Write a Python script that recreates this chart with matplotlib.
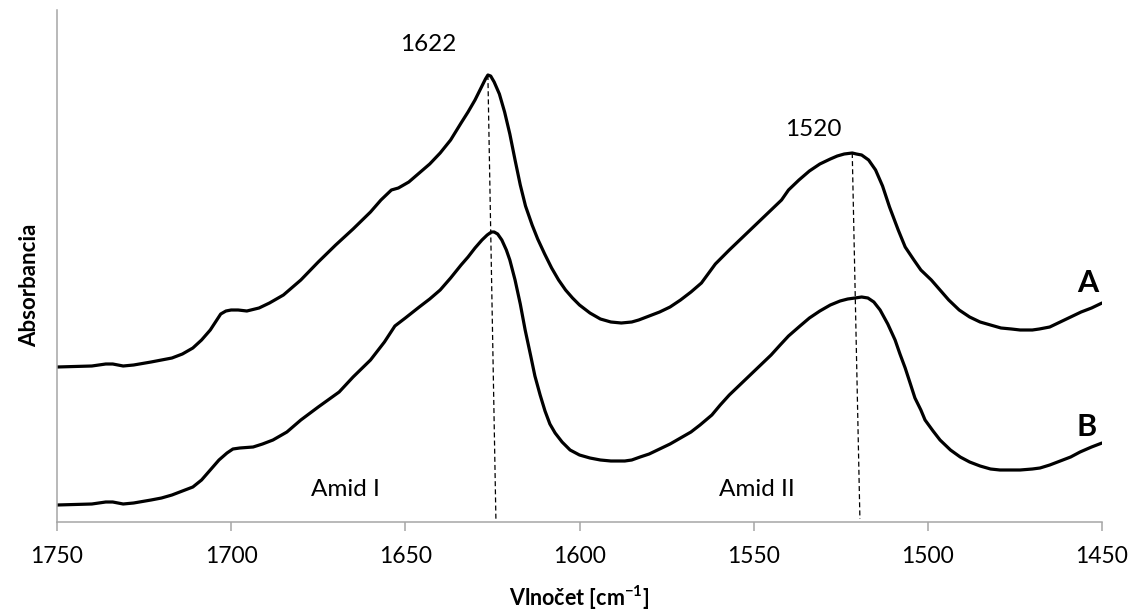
import numpy as np
import matplotlib
matplotlib.use("Agg")
import matplotlib.pyplot as plt

plt.rcParams['font.family'] = ['Lato', 'DejaVu Sans']
plt.rcParams['mathtext.fontset'] = 'custom'
plt.rcParams['mathtext.rm'] = 'Lato'
plt.rcParams['mathtext.bf'] = 'Lato:bold'

# Wavenumbers [cm-1] and absorbance (arbitrary units) of spectrum A
wn_a = [1750, 1740, 1736, 1734, 1731, 1728, 1723, 1720, 1717, 1714, 1711, 1708.5, 1706, 1704.5,
        1703, 1701.5, 1700, 1698, 1695.5, 1692, 1689, 1685, 1680, 1675, 1670, 1665, 1660,
        1657, 1654, 1652, 1649, 1646, 1643, 1640, 1637, 1634, 1632, 1630, 1628, 1627,
        1626.3, 1625.5, 1624.5, 1623, 1621.5, 1620, 1618.5, 1617, 1615.5, 1613.6, 1612,
        1610, 1608, 1606, 1604, 1602, 1600, 1597, 1594, 1591, 1588, 1585, 1583, 1580,
        1577, 1574, 1571, 1568, 1565, 1561, 1557, 1554, 1551, 1548, 1545, 1542, 1540,
        1537, 1534, 1531, 1528, 1526, 1524, 1521.7, 1520.5, 1519, 1517, 1515, 1513, 1511,
        1508.5, 1506.5, 1504, 1502, 1499, 1496.5, 1494, 1491, 1488, 1485, 1482, 1479,
        1476, 1473.5, 1470, 1468, 1465, 1462, 1459, 1456, 1453, 1450]
abs_a = [155, 156, 158, 158, 156, 157, 160, 162, 164, 168, 174, 182, 192, 200,
         208, 211, 212, 212, 211, 214, 219, 227, 242, 260, 277, 293, 310,
         322, 332, 334, 340, 349, 358, 369, 382, 399, 410, 422, 436, 443,
         447, 446, 440, 428, 410, 388, 362, 337, 316, 297, 283,
         268, 254, 242, 232, 224, 217, 209, 203, 200, 199, 200, 202, 206,
         210, 215, 222, 230, 239, 258, 272, 282, 292, 302, 312, 322, 332,
         342, 351, 358, 363, 366, 368, 369, 368, 367, 362, 352, 336, 315,
         292, 275, 262, 252, 242, 232, 222, 212, 205, 200, 197, 194,
         193, 192, 192, 193, 195, 200, 205, 210, 214, 219]

# Wavenumbers [cm-1] and absorbance (arbitrary units) of spectrum B
wn_b = [1750, 1740, 1736, 1734, 1731, 1728, 1723, 1720, 1717, 1714, 1711, 1708.5, 1706, 1703.5,
        1701.2, 1699.5, 1697.5, 1693.7, 1691, 1688, 1684, 1680, 1675, 1669, 1665, 1660,
        1656, 1653, 1650, 1646, 1643, 1640, 1637, 1634, 1632, 1630, 1628, 1626.5,
        1625.3, 1624.5, 1623.5, 1622.3, 1621, 1620, 1618.5, 1617, 1615.6, 1614, 1612.8,
        1611.3, 1609.9, 1608.5, 1607, 1605, 1602.7, 1600, 1597, 1594, 1591, 1587, 1585,
        1582.6, 1580, 1577, 1574, 1571, 1568, 1565.4, 1562, 1559.6, 1557, 1554, 1551,
        1548, 1545, 1542.4, 1540, 1536.7, 1534, 1531, 1528, 1525.2, 1523, 1520.9, 1519,
        1517.2, 1515.5, 1513.7, 1511.5, 1509.4, 1508, 1506.5, 1505, 1503.7, 1502, 1500.8,
        1498.5, 1496.5, 1493.5, 1490.7, 1488, 1485, 1482, 1479.3, 1476, 1473.5, 1470,
        1467.8, 1465, 1462, 1459, 1456.3, 1453, 1450]
abs_b = [17, 18, 20, 20, 18, 19, 22, 24, 27, 31, 35, 42, 52, 62,
         69, 73, 74, 75, 78, 82, 90, 102, 115, 130, 145, 162,
         180, 196, 204, 215, 223, 232, 244, 257, 265, 274, 282, 287,
         290, 290, 288, 282, 272, 262, 242, 218, 192, 166, 146,
         127, 111, 98, 89, 80, 72, 67, 64, 62, 61, 61, 62,
         65, 68, 73, 78, 84, 90, 97, 107, 117, 127, 137, 147,
         157, 167, 177, 186, 196, 204, 211, 217, 221, 223, 224, 225,
         224, 220, 212, 198, 182, 168, 154, 138, 124, 112, 102,
         91, 82, 72, 65, 60, 56, 53, 52, 52, 52, 53,
         54, 57, 61, 65, 70, 75, 79]

# Peak guide lines: (top wavenumber, top absorbance) -> (bottom wavenumber, bottom absorbance)
guide_top_wn = [1626.3, 1521.7]
guide_top_abs = [447, 369]
guide_bottom_wn = [1624.0, 1519.5]
guide_bottom_abs = [3, 3]
peak_labels = ["1622", "1520"]
peak_label_wn = [1643.5, 1533]
peak_label_abs = [477, 392]

band_labels = ["Amid I", "Amid II"]
band_label_wn = [1667.3, 1549]
band_label_abs = [32, 32]

series_names = ["A", "B"]
series_label_wn = [1454, 1454.3]
series_label_abs = [239, 95]

xticks = [1750, 1700, 1650, 1600, 1550, 1500, 1450]

fig = plt.figure(figsize=(11.38, 6.11), dpi=100)
ax = fig.add_axes([57 / 1138, 89 / 611, 1045 / 1138, 512 / 611])

ax.plot(wn_a, abs_a, color='black', lw=2.3, solid_joinstyle='round', solid_capstyle='round')
ax.plot(wn_b, abs_b, color='black', lw=2.3, solid_joinstyle='round', solid_capstyle='round')

for x0, y0, x1, y1 in zip(guide_top_wn, guide_top_abs, guide_bottom_wn, guide_bottom_abs):
    ax.plot([x0, x1], [y0, y1], color='black', lw=0.9, dashes=(4, 2.5))

for t, x, y in zip(peak_labels, peak_label_wn, peak_label_abs):
    ax.text(x, y, t, ha='center', va='center', fontsize=17.5)
for t, x, y in zip(band_labels, band_label_wn, band_label_abs):
    ax.text(x, y, t, ha='center', va='center', fontsize=17.5)
for t, x, y in zip(series_names, series_label_wn, series_label_abs):
    ax.text(x, y, t, ha='center', va='center', fontsize=22, fontweight='bold')

ax.set_xlim(1750, 1450)
ax.set_ylim(0, 512)
ax.set_xticks(xticks)
ax.set_xticklabels([str(t) for t in xticks])
ax.set_yticks([])

spine_color = '#a6a6a6'
for side in ('top', 'right'):
    ax.spines[side].set_visible(False)
for side in ('left', 'bottom'):
    ax.spines[side].set_color(spine_color)
    ax.spines[side].set_linewidth(1.1)
ax.tick_params(axis='x', direction='out', length=6.5, width=1.1, color=spine_color,
               labelsize=16.5, pad=11)

ax.set_xlabel(r'Vlnočet [cm$^{\mathbf{-1}}$]', fontsize=15.5, fontweight='bold')
ax.xaxis.set_label_coords(0.5, -0.148)
ax.xaxis.label.set_va('center')
ax.set_ylabel('Absorbancia', fontsize=16, fontweight='bold')
ax.yaxis.set_label_coords(-0.026, 0.463)
ax.yaxis.label.set_va('center')

fig.savefig('out.png', dpi=100)
